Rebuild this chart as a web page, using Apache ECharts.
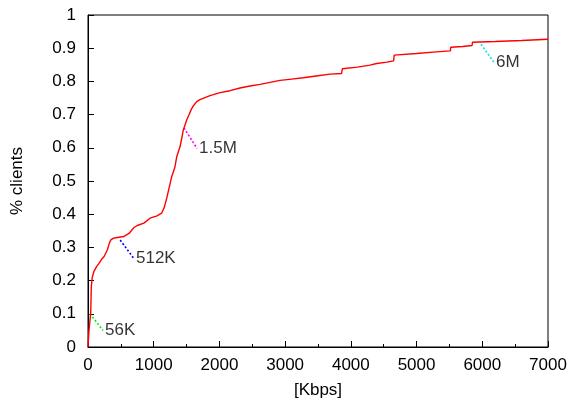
<!DOCTYPE html>
<html>
<head>
<meta charset="utf-8">
<script src="https://cdn.jsdelivr.net/npm/echarts@6/dist/echarts.min.js"></script>
<style>
html,body{margin:0;padding:0;background:#fff;}
#chart{width:569px;height:398px;}
</style>
</head>
<body>
<div id="chart"></div>
<script>
// CDF of client bandwidth: [Kbps, fraction of clients]
const kbps = [0, 15, 30, 41, 50, 65, 91, 130, 167, 210, 243, 294, 320, 345, 380, 421, 548, 624, 700, 750, 850, 944, 1050, 1120, 1160, 1200, 1235, 1274, 1324, 1350, 1400, 1426, 1450, 1470, 1502, 1542, 1570, 1602, 1654, 1704, 1780, 1857, 2009, 2161, 2313, 2465, 2618, 2770, 2922, 3100, 3277, 3500, 3683, 3860, 3870, 4100, 4292, 4393, 4550, 4650, 4660, 5000, 5300, 5515, 5520, 5700, 5845, 5850, 6200, 6600, 7000];
const clients = [0, 0.05, 0.08, 0.10, 0.18, 0.21, 0.228, 0.242, 0.252, 0.265, 0.272, 0.292, 0.31, 0.322, 0.327, 0.329, 0.333, 0.342, 0.36, 0.366, 0.373, 0.388, 0.395, 0.403, 0.42, 0.45, 0.48, 0.513, 0.543, 0.573, 0.603, 0.628, 0.654, 0.665, 0.684, 0.702, 0.715, 0.726, 0.739, 0.745, 0.751, 0.757, 0.766, 0.772, 0.780, 0.786, 0.791, 0.797, 0.803, 0.807, 0.811, 0.817, 0.822, 0.824, 0.838, 0.843, 0.849, 0.854, 0.858, 0.862, 0.879, 0.884, 0.889, 0.892, 0.903, 0.905, 0.908, 0.918, 0.920, 0.923, 0.927];

// Annotations: name, point on curve, label anchor
const annotNames = ['56K', '512K', '1.5M', '6M'];
const annotColors = ['#00ee00', '#0000ff', '#ff00ff', '#00e5e5'];
const annotFrom = [[30, 0.10], [490, 0.322], [1460, 0.66], [5980, 0.912]];
const annotTo = [[228, 0.050], [700, 0.266], [1659, 0.598], [6179, 0.857]];

const xTicks = {min: 0, max: 7000, interval: 1000};
const yTicks = {min: 0, max: 1, interval: 0.1};

const font = 'Liberation Sans, Arial, sans-serif';
const fs = 17;
const chart = echarts.init(document.getElementById('chart'), null, {renderer: 'canvas'});

const series = [{
  type: 'line',
  data: kbps.map((k, i) => [k, clients[i]]),
  showSymbol: false,
  lineStyle: {color: '#ff0000', width: 1.4},
  itemStyle: {color: '#ff0000'},
  animation: false,
  z: 3
}];
annotNames.forEach((n, i) => {
  series.push({
    type: 'line',
    data: [annotFrom[i], annotTo[i]],
    showSymbol: false,
    lineStyle: {color: annotColors[i], width: 1.6, type: [2, 2]},
    animation: false,
    z: 2
  });
  series.push({
    type: 'scatter',
    data: [annotTo[i]],
    symbolSize: 0,
    label: {show: true, position: 'right', distance: 2, formatter: n,
      color: '#000', fontSize: fs, fontFamily: font},
    animation: false,
    z: 4
  });
});

chart.setOption({
  backgroundColor: '#fff',
  animation: false,
  grid: {left: 88, right: 21, top: 15, bottom: 51, show: true, borderColor: '#000', borderWidth: 1,
    containLabel: false, outerBoundsMode: 'none'},
  xAxis: {
    type: 'value', min: xTicks.min, max: xTicks.max, interval: xTicks.interval,
    name: '[Kbps]', nameLocation: 'middle', nameGap: 35,
    nameTextStyle: {color: '#000', fontSize: fs, fontFamily: font},
    axisLine: {show: true, lineStyle: {color: '#000', width: 1}},
    axisTick: {show: true, inside: true, length: 6, lineStyle: {color: '#000'}},
    minorTick: {show: true, splitNumber: 2, length: 3, lineStyle: {color: '#000'}},
    axisLabel: {color: '#000', fontSize: fs, fontFamily: font, margin: 10,
      formatter: v => String(v)},
    splitLine: {show: false}
  },
  yAxis: {
    type: 'value', min: yTicks.min, max: yTicks.max, interval: yTicks.interval,
    name: '% clients', nameLocation: 'middle', nameGap: 62,
    nameTextStyle: {color: '#000', fontSize: fs, fontFamily: font},
    axisLine: {show: true, lineStyle: {color: '#000', width: 1}},
    axisTick: {show: true, inside: true, length: 6, lineStyle: {color: '#000'}},
    axisLabel: {color: '#000', fontSize: fs, fontFamily: font, margin: 12,
      formatter: v => String(Math.round(v * 10) / 10)},
    splitLine: {show: false}
  },
  series: series
});
</script>
</body>
</html>
